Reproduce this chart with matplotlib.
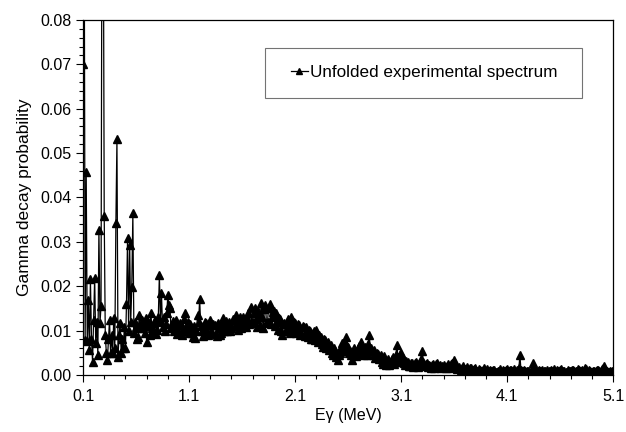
import numpy as np
import matplotlib
matplotlib.use("Agg")
import matplotlib.pyplot as plt
from matplotlib.patches import Rectangle
from matplotlib.ticker import MultipleLocator, FormatStrFormatter

plt.rcParams['font.family'] = ['Liberation Sans', 'DejaVu Sans']

# energy binning (MeV)
e_start = 0.10
e_step = 0.01

# unfolded gamma decay probability, one row = 0.2 MeV
prob = [
    # 0.10
    0.0700, 0.1200, 0.0079, 0.0458, 0.0077, 0.0169, 0.0056, 0.0216, 0.0080, 0.0030,
    0.0124, 0.0219, 0.0072, 0.0120, 0.0045, 0.0327, 0.0117, 0.0155, 0.1200, 0.1200,
    # 0.30
    0.0359, 0.0090, 0.0050, 0.0034, 0.0080, 0.0124, 0.0050, 0.0090, 0.0050, 0.0128,
    0.0060, 0.0342, 0.0531, 0.0041, 0.0090, 0.0117, 0.0050, 0.0080, 0.0060, 0.0109,
    # 0.50
    0.0060, 0.0160, 0.0308, 0.0100, 0.0293, 0.0120, 0.0199, 0.0364, 0.0095, 0.0120,
    0.0109, 0.0080, 0.0086, 0.0135, 0.0105, 0.0105, 0.0124, 0.0110, 0.0095, 0.0128,
    # 0.70
    0.0075, 0.0120, 0.0110, 0.0090, 0.0139, 0.0105, 0.0094, 0.0118, 0.0124, 0.0092,
    0.0101, 0.0130, 0.0225, 0.0120, 0.0184, 0.0108, 0.0131, 0.0100, 0.0115, 0.0140,
    # 0.90
    0.0180, 0.0158, 0.0150, 0.0105, 0.0113, 0.0122, 0.0098, 0.0110, 0.0124, 0.0092,
    0.0098, 0.0118, 0.0112, 0.0090, 0.0104, 0.0125, 0.0139, 0.0100, 0.0109, 0.0120,
    # 1.10
    0.0094, 0.0115, 0.0109, 0.0095, 0.0086, 0.0110, 0.0083, 0.0100, 0.0135, 0.0120,
    0.0171, 0.0110, 0.0098, 0.0088, 0.0108, 0.0120, 0.0117, 0.0100, 0.0090, 0.0112,
    # 1.30
    0.0124, 0.0100, 0.0094, 0.0115, 0.0112, 0.0092, 0.0088, 0.0118, 0.0105, 0.0090,
    0.0095, 0.0115, 0.0128, 0.0098, 0.0110, 0.0122, 0.0098, 0.0108, 0.0120, 0.0100,
    # 1.50
    0.0105, 0.0125, 0.0124, 0.0110, 0.0135, 0.0118, 0.0101, 0.0122, 0.0131, 0.0105,
    0.0115, 0.0130, 0.0124, 0.0112, 0.0108, 0.0128, 0.0140, 0.0115, 0.0154, 0.0120,
    # 1.70
    0.0118, 0.0140, 0.0150, 0.0125, 0.0109, 0.0145, 0.0135, 0.0112, 0.0163, 0.0130,
    0.0105, 0.0148, 0.0158, 0.0118, 0.0120, 0.0152, 0.0160, 0.0115, 0.0130, 0.0142,
    # 1.90
    0.0145, 0.0110, 0.0139, 0.0120, 0.0101, 0.0128, 0.0125, 0.0098, 0.0090, 0.0115,
    0.0118, 0.0100, 0.0105, 0.0125, 0.0122, 0.0095, 0.0131, 0.0110, 0.0100, 0.0120,
    # 2.10
    0.0118, 0.0095, 0.0101, 0.0115, 0.0112, 0.0090, 0.0095, 0.0110, 0.0108, 0.0088,
    0.0109, 0.0095, 0.0086, 0.0102, 0.0100, 0.0082, 0.0080, 0.0095, 0.0098, 0.0078,
    # 2.30
    0.0101, 0.0085, 0.0075, 0.0090, 0.0085, 0.0070, 0.0064, 0.0080, 0.0079, 0.0060,
    0.0070, 0.0075, 0.0056, 0.0065, 0.0068, 0.0050, 0.0045, 0.0060, 0.0055, 0.0040,
    # 2.50
    0.0034, 0.0045, 0.0050, 0.0062, 0.0071, 0.0055, 0.0068, 0.0075, 0.0086, 0.0060,
    0.0064, 0.0050, 0.0055, 0.0045, 0.0034, 0.0052, 0.0060, 0.0042, 0.0048, 0.0058,
    # 2.70
    0.0065, 0.0050, 0.0075, 0.0060, 0.0052, 0.0045, 0.0062, 0.0050, 0.0045, 0.0070,
    0.0090, 0.0055, 0.0060, 0.0045, 0.0056, 0.0038, 0.0040, 0.0050, 0.0048, 0.0035,
    # 2.90
    0.0038, 0.0045, 0.0030, 0.0025, 0.0042, 0.0032, 0.0023, 0.0030, 0.0035, 0.0022,
    0.0028, 0.0036, 0.0040, 0.0025, 0.0030, 0.0045, 0.0068, 0.0040, 0.0035, 0.0048,
    # 3.10
    0.0049, 0.0030, 0.0038, 0.0028, 0.0023, 0.0032, 0.0030, 0.0020, 0.0020, 0.0026,
    0.0028, 0.0018, 0.0022, 0.0027, 0.0030, 0.0020, 0.0018, 0.0024, 0.0025, 0.0035,
    # 3.30
    0.0053, 0.0030, 0.0020, 0.0025, 0.0028, 0.0018, 0.0023, 0.0020, 0.0015, 0.0022,
    0.0025, 0.0016, 0.0018, 0.0024, 0.0026, 0.0017, 0.0020, 0.0023, 0.0015, 0.0020,
    # 3.50
    0.0022, 0.0018, 0.0016, 0.0021, 0.0025, 0.0015, 0.0018, 0.0024, 0.0028, 0.0022,
    0.0034, 0.0025, 0.0020, 0.0014, 0.0015, 0.0019, 0.0012, 0.0016, 0.0020, 0.0013,
    # 3.70
    0.0014, 0.0010, 0.0019, 0.0013, 0.0010, 0.0015, 0.0016, 0.0009, 0.0011, 0.0014,
    0.0015, 0.0010, 0.0008, 0.0013, 0.0012, 0.0008, 0.0009, 0.0012, 0.0016, 0.0010,
    # 3.90
    0.0010, 0.0013, 0.0007, 0.0009, 0.0012, 0.0010, 0.0008, 0.0011, 0.0011, 0.0007,
    0.0006, 0.0009, 0.0010, 0.0013, 0.0008, 0.0006, 0.0012, 0.0010, 0.0009, 0.0012,
    # 4.10
    0.0014, 0.0009, 0.0008, 0.0012, 0.0011, 0.0008, 0.0013, 0.0010, 0.0007, 0.0012,
    0.0010, 0.0015, 0.0044, 0.0012, 0.0009, 0.0008, 0.0012, 0.0010, 0.0007, 0.0009,
    # 4.30
    0.0010, 0.0007, 0.0008, 0.0012, 0.0026, 0.0011, 0.0010, 0.0008, 0.0007, 0.0010,
    0.0011, 0.0008, 0.0009, 0.0012, 0.0006, 0.0009, 0.0010, 0.0007, 0.0012, 0.0010,
    # 4.50
    0.0008, 0.0011, 0.0010, 0.0007, 0.0013, 0.0010, 0.0007, 0.0012, 0.0009, 0.0008,
    0.0011, 0.0013, 0.0006, 0.0010, 0.0009, 0.0007, 0.0007, 0.0011, 0.0010, 0.0008,
    # 4.70
    0.0008, 0.0012, 0.0011, 0.0008, 0.0006, 0.0010, 0.0009, 0.0013, 0.0012, 0.0009,
    0.0008, 0.0011, 0.0010, 0.0015, 0.0014, 0.0010, 0.0007, 0.0011, 0.0009, 0.0007,
    # 4.90
    0.0006, 0.0009, 0.0010, 0.0007, 0.0008, 0.0012, 0.0011, 0.0008, 0.0009, 0.0013,
    0.0016, 0.0020, 0.0012, 0.0010, 0.0008, 0.0007, 0.0007, 0.0009, 0.0006, 0.0008,
    # 5.10
    0.0005,
]

energy = e_start + e_step * np.arange(len(prob))

x_ticks = [0.1, 1.1, 2.1, 3.1, 4.1, 5.1]

fig = plt.figure(figsize=(6.26, 4.32), dpi=100)
ax = fig.add_axes([0.1326, 0.132, 0.847, 0.822])

ax.plot(energy, prob, color='black', lw=0.9, marker='^', ms=5.3,
        mfc='black', mec='black', label='Unfolded experimental spectrum')

ax.set_xlim(0.1, 5.1)
ax.set_ylim(0, 0.08)
ax.set_xticks(x_ticks)
ax.xaxis.set_minor_locator(MultipleLocator(0.2, offset=0.1))
ax.yaxis.set_major_locator(MultipleLocator(0.01))
ax.yaxis.set_minor_locator(MultipleLocator(0.002))
ax.xaxis.set_major_formatter(FormatStrFormatter('%.1f'))
ax.yaxis.set_major_formatter(FormatStrFormatter('%.2f'))
ax.tick_params(which='major', direction='out', length=5, width=0.8, labelsize=11.5)
ax.tick_params(axis='x', which='major', pad=5)
ax.tick_params(which='minor', direction='out', length=3, width=0.8)
for s in ax.spines.values():
    s.set_linewidth(0.9)

ax.set_xlabel('E\u03b3 (MeV)', fontsize=11.5, labelpad=3)
ax.set_ylabel('Gamma decay probability', fontsize=12.5, labelpad=6)

# legend box
ax.add_patch(Rectangle((0.344, 0.780), 0.598, 0.141, transform=ax.transAxes,
                       fill=False, edgecolor='0.45', lw=0.8))
ax.legend(loc='center', bbox_to_anchor=(0.643, 0.8505), frameon=False,
          fontsize=12.3, handlelength=1.0, handletextpad=0.1, markerscale=0.8)

fig.savefig('out.png', dpi=100)
